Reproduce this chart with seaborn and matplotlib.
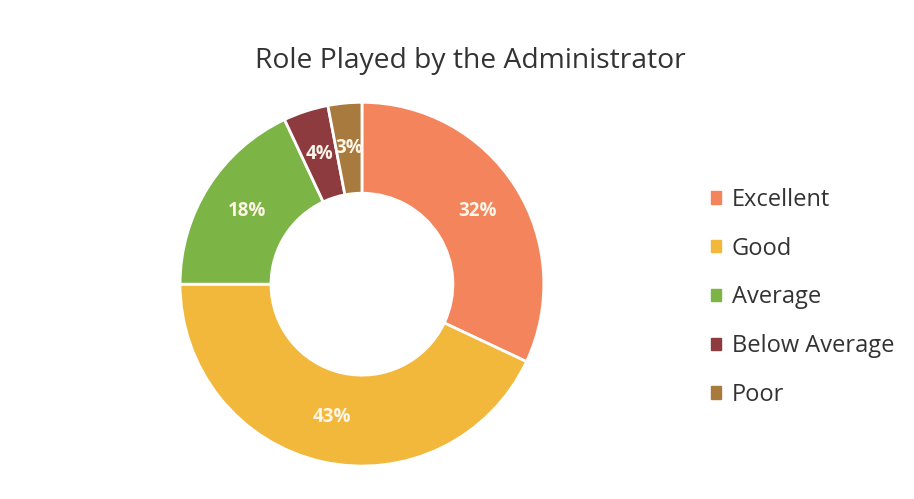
import matplotlib
matplotlib.use("Agg")
import matplotlib.pyplot as plt
import matplotlib.patches as mpatches
import seaborn as sns

# data
categories = ["Excellent", "Good", "Average", "Below Average", "Poor"]
shares = [32, 43, 18, 4, 3]
colors = ["#F4845C", "#F2B83C", "#7DB446", "#8E3B40", "#A97A3E"]

sns.set_theme(style="white")
plt.rcParams["font.family"] = ["Open Sans", "DejaVu Sans"]

fig = plt.figure(figsize=(9.14, 4.99), dpi=100)
fig.patch.set_facecolor("white")
ax = fig.add_axes([0.197, 0.066, 0.398, 0.729])

wedges, texts, autotexts = ax.pie(
    shares,
    colors=colors,
    startangle=90,
    counterclock=False,
    autopct="%d%%",
    pctdistance=0.75,
    wedgeprops=dict(width=0.5, edgecolor="white", linewidth=2),
    textprops=dict(color="#FDF6E8", fontsize=13.5, fontweight="bold"),
)
ax.set_xlim(-1.0, 1.0)
ax.set_ylim(-1.0, 1.0)
ax.set_aspect("equal")

fig.text(0.515, 0.878, "Role Played by the Administrator", ha="center", va="center",
         fontsize=20.3, color="#333333")

handles = [mpatches.Patch(color=c, label=l) for c, l in zip(colors, categories)]
leg = fig.legend(handles=handles, loc="center left", bbox_to_anchor=(0.755, 0.404),
                 frameon=False, fontsize=17, handlelength=0.42, handleheight=0.42,
                 handletextpad=0.45, labelspacing=1.05)
for t in leg.get_texts():
    t.set_color("#333333")

fig.savefig("out.png", dpi=100, facecolor="white")
